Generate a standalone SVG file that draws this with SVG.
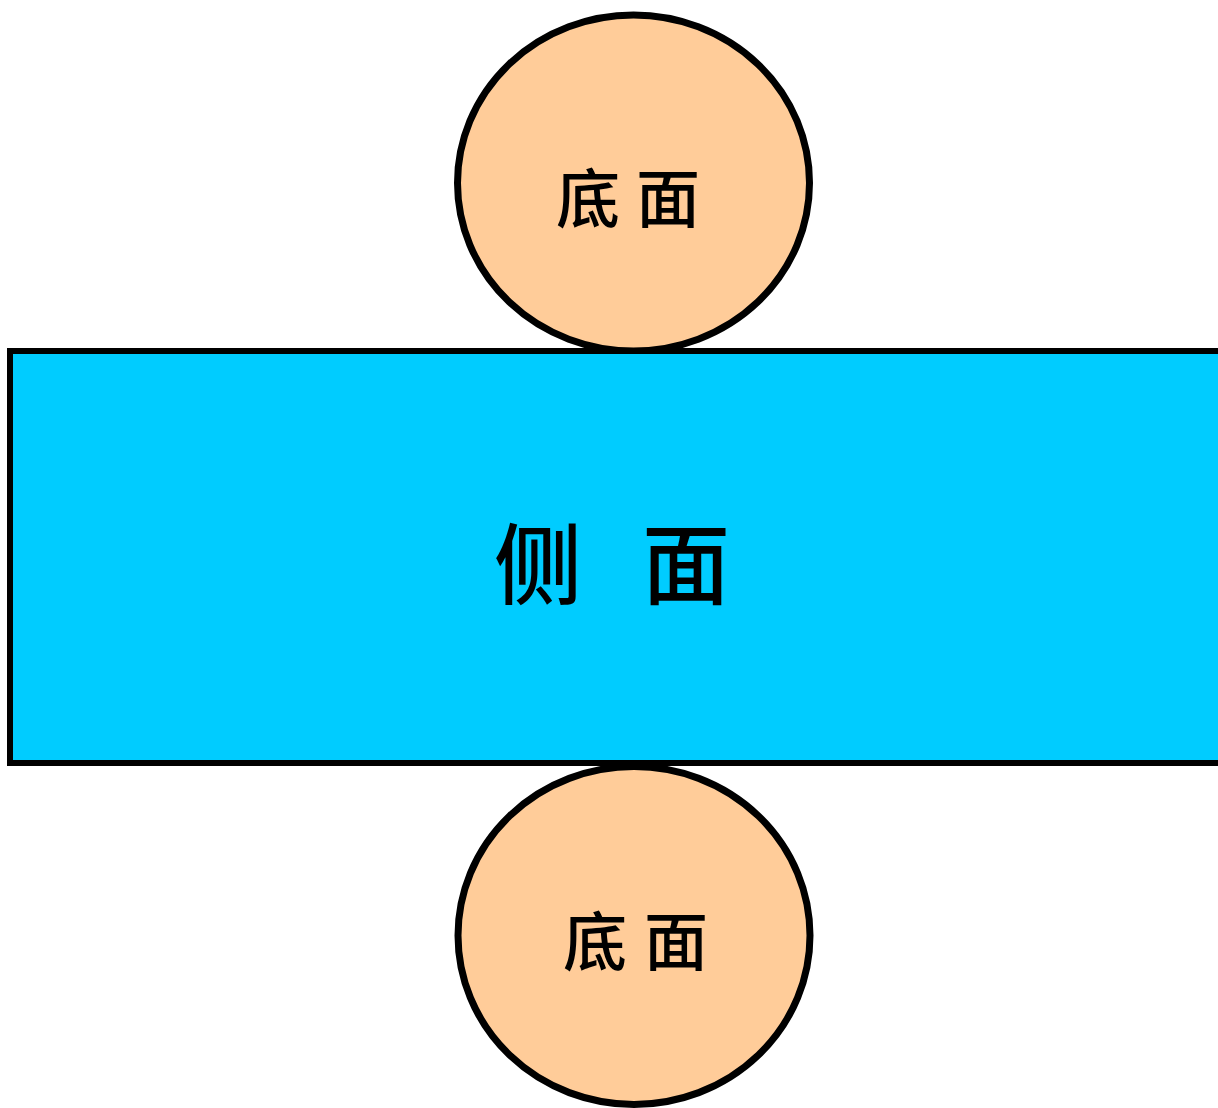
<svg xmlns="http://www.w3.org/2000/svg" width="1218" height="1108" viewBox="0 0 1218 1108">
<style>
.base{fill:#FFCC99;stroke:#000;stroke-width:7}
.side{fill:#00CCFF;stroke:#000;stroke-width:6}
.lbl{font-family:"Noto Sans CJK SC","Noto Sans CJK JP",sans-serif;fill:#000;font-weight:500}
</style>
<rect width="1218" height="1108" fill="#fff"/>
<g id="top-base">
<ellipse class="base" cx="633.5" cy="183" rx="176" ry="168"/>
<text class="lbl" font-size="64" y="222"><tspan x="556">底</tspan><tspan x="636">面</tspan></text>
</g>
<g id="side">
<rect class="side" x="10" y="351" width="1215" height="412"/>
<text class="lbl" font-size="88" font-weight="bold" y="597"><tspan x="494">侧</tspan><tspan x="642">面</tspan></text>
</g>
<g id="bottom-base">
<ellipse class="base" cx="634" cy="935.5" rx="176" ry="169"/>
<text class="lbl" font-size="64" y="965"><tspan x="563">底</tspan><tspan x="644">面</tspan></text>
</g>
<g id="connectors"></g>
</svg>
